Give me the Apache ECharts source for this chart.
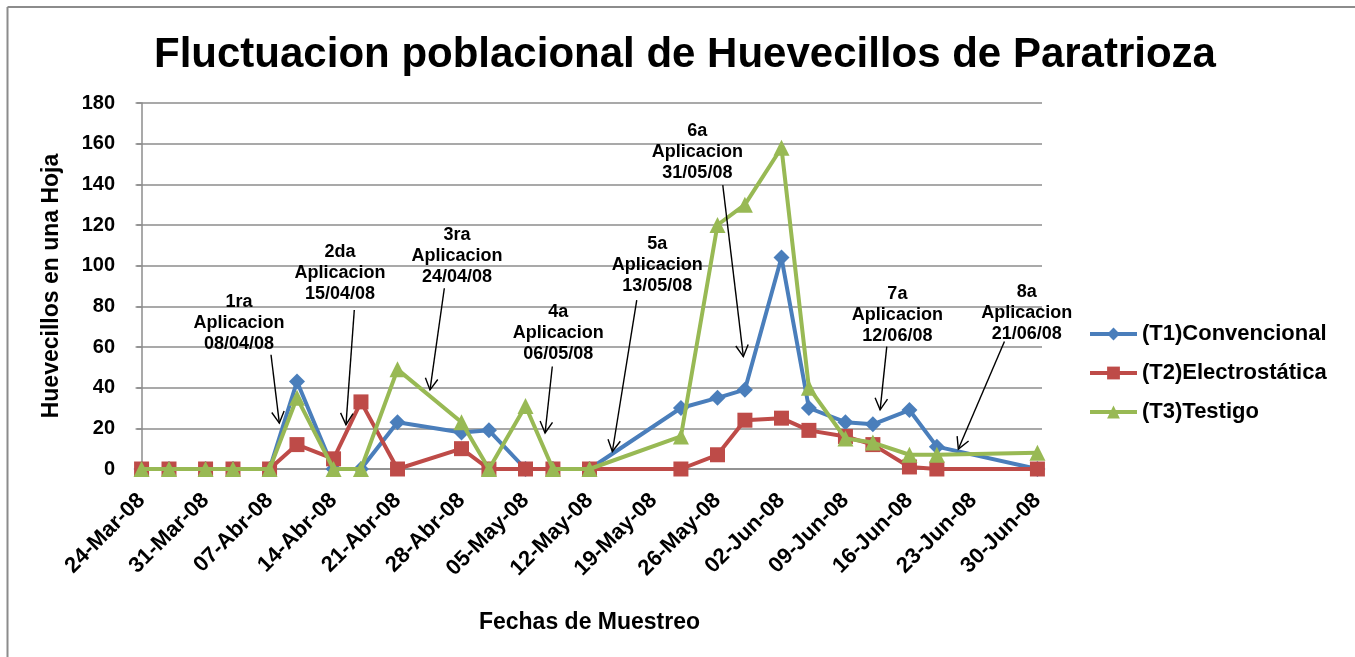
<!DOCTYPE html>
<html>
<head>
<meta charset="utf-8">
<script src="https://cdn.jsdelivr.net/npm/echarts@6/dist/echarts.min.js"></script>
<style>
html,body{margin:0;padding:0;background:#fff;}
#chart{width:1355px;height:657px;}
</style>
</head>
<body>
<div id="chart"></div>
<script>
// ---- data ----
const sampleDates = ['2008-03-24','2008-03-27','2008-03-31','2008-04-03','2008-04-07','2008-04-10','2008-04-14','2008-04-17','2008-04-21','2008-04-28','2008-05-01','2008-05-05','2008-05-08','2008-05-12','2008-05-22','2008-05-26','2008-05-29','2008-06-02','2008-06-05','2008-06-09','2008-06-12','2008-06-16','2008-06-19','2008-06-30'];
const t1Convencional = [0,0,0,0,0,43,0,0,23,18,19,0,0,0,30,35,39,104,30,23,22,29,11,0];
const t2Electrostatica = [0,0,0,0,0,12,5,33,0,10,0,0,0,0,0,7,24,25,19,16,12,1,0,0];
const t3Testigo = [0,0,0,0,0,35,0,0,49,23,0,31,0,0,16,120,130,158,40,15,13,7,7,8];
const tickDates = ['2008-03-24','2008-03-31','2008-04-07','2008-04-14','2008-04-21','2008-04-28','2008-05-05','2008-05-12','2008-05-19','2008-05-26','2008-06-02','2008-06-09','2008-06-16','2008-06-23','2008-06-30'];
const monthNames = ['Ene','Feb','Mar','Abr','May','Jun','Jul','Ago','Sep','Oct','Nov','Dic'];
const seriesNames = ['(T1)Convencional','(T2)Electrostática','(T3)Testigo'];
const yTicks = [0,20,40,60,80,100,120,140,160,180];

// application annotations: text, label anchor, arrow start, arrow tip (in [day, value] chart coords)
const annotations = [
  {text:'1ra\nAplicacion\n08/04/08', at:[10.66,71.9], from:[14.16,56.2], to:[15.07,22.6]},
  {text:'2da\nAplicacion\n15/04/08', at:[21.71,96.5], from:[23.27,78.2], to:[22.36,21.8]},
  {text:'3ra\nAplicacion\n24/04/08', at:[34.51,104.7], from:[33.12,88.9], to:[31.55,38.9]},
  {text:'4a\nAplicacion\n06/05/08', at:[45.59,66.8], from:[44.93,50.4], to:[44.14,17.7]},
  {text:'5a\nAplicacion\n13/05/08', at:[56.42,100.3], from:[54.17,83.1], to:[51.5,8.6]},
  {text:'6a\nAplicacion\n31/05/08', at:[60.8,155.9], from:[63.58,139.6], to:[65.83,55.3]},
  {text:'7a\nAplicacion\n12/06/08', at:[82.68,75.8], from:[81.52,60.2], to:[80.79,29.1]},
  {text:'8a\nAplicacion\n21/06/08', at:[96.84,76.9], from:[94.39,62.7], to:[89.35,9.8]}
];

// ---- helpers ----
const DAY = 86400000;
const origin = Date.UTC(2008, 2, 24);
function dayIndex(s){ const p = s.split('-').map(Number); return Math.round((Date.UTC(p[0], p[1]-1, p[2]) - origin) / DAY); }
function fmtDay(d){ const dt = new Date(origin + d*DAY); const dd = String(dt.getUTCDate()).padStart(2,'0'); return dd + '-' + monthNames[dt.getUTCMonth()] + '-' + String(dt.getUTCFullYear()).slice(2); }
const xs = sampleDates.map(dayIndex);
const tickX = tickDates.map(dayIndex);
function pairs(vals){ return vals.map((v,i)=>[xs[i], v]); }

const FONT = '"Liberation Sans", Arial, Helvetica, sans-serif';
const GRID_C = '#8c8c8c';
const colors = ['#4A7EBB','#BE4B48','#98B954'];

const chart = echarts.init(document.getElementById('chart'), null, {renderer:'canvas'});
const option = {
  animation:false,
  backgroundColor:'#ffffff',
  color: colors,
  title:{
    text:'Fluctuacion poblacional de Huevecillos de Paratrioza',
    left:680, top:29, textAlign:'center',
    textStyle:{fontFamily:FONT, fontWeight:'bold', fontSize:42, color:'#000'}
  },
  legend:{
    orient:'vertical', left:1083, top:318, itemGap:17, itemWidth:47, itemHeight:16,
    lineStyle:{width:4},
    textStyle:{fontFamily:FONT, fontWeight:'bold', fontSize:22, color:'#000'},
    data: seriesNames
  },
  grid:{left:137, right:313, top:103, bottom:188, containLabel:false},
  xAxis:{
    type:'value', min:-0.5, max:98.5,
    name:'Fechas de Muestreo', nameLocation:'middle', nameGap:142,
    nameTextStyle:{fontFamily:FONT, fontWeight:'bold', fontSize:23, color:'#000'},
    axisLine:{show:true, lineStyle:{color:GRID_C, width:1.5}},
    axisTick:{show:false},
    splitLine:{show:false},
    axisLabel:{customValues: tickX, rotate:45, margin:28, fontFamily:FONT, fontWeight:'bold', fontSize:22, color:'#000',
      formatter:(v)=>fmtDay(v)}
  },
  yAxis:{
    type:'value', min:yTicks[0], max:yTicks[yTicks.length-1], interval:yTicks[1]-yTicks[0],
    name:'Huevecillos en una Hoja', nameLocation:'middle', nameGap:74, nameRotate:90,
    nameTextStyle:{fontFamily:FONT, fontWeight:'bold', fontSize:23, color:'#000'},
    axisLine:{show:true, lineStyle:{color:GRID_C, width:1.5}},
    axisTick:{show:true, inside:false, length:6, lineStyle:{color:GRID_C, width:1.5}},
    splitLine:{show:true, lineStyle:{color:GRID_C, width:1.5}},
    axisLabel:{margin:22, fontFamily:FONT, fontWeight:'bold', fontSize:20, color:'#000'}
  },
  series:[
    {name:seriesNames[0], type:'line', data:pairs(t1Convencional), symbol:'diamond', symbolSize:16,
      lineStyle:{width:4, color:colors[0]}, itemStyle:{color:colors[0]}, z:2},
    {name:seriesNames[1], type:'line', data:pairs(t2Electrostatica), symbol:'rect', symbolSize:15,
      lineStyle:{width:4, color:colors[1]}, itemStyle:{color:colors[1]}, z:3},
    {name:seriesNames[2], type:'line', data:pairs(t3Testigo), symbol:'triangle', symbolSize:16,
      lineStyle:{width:4, color:colors[2]}, itemStyle:{color:colors[2]}, z:4}
  ]
};
chart.setOption(option);

// annotations drawn in pixel space converted from chart coords
function px(p){ return chart.convertToPixel({gridIndex:0}, p); }
const graphics = [
  {type:'line', shape:{x1:7.5, y1:7, x2:1355, y2:7}, style:{stroke:'#8c8c8c', lineWidth:2}, z:10},
  {type:'line', shape:{x1:7.5, y1:7, x2:7.5, y2:657}, style:{stroke:'#8c8c8c', lineWidth:2}, z:10}
];
annotations.forEach(a=>{
  const t = px(a.at), f = px(a.from), e = px(a.to);
  graphics.push({type:'text', x:t[0], y:t[1], z:20,
    style:{text:a.text, fill:'#000', font:'bold 18px ' + FONT, align:'center', verticalAlign:'middle', lineHeight:21}});
  graphics.push({type:'line', shape:{x1:f[0], y1:f[1], x2:e[0], y2:e[1]}, style:{stroke:'#000', lineWidth:1.4}, z:20});
  const ang = Math.atan2(f[1]-e[1], f[0]-e[0]);
  const L = 13, spread = 0.5;
  graphics.push({type:'polyline', z:20,
    shape:{points:[[e[0]+L*Math.cos(ang+spread), e[1]+L*Math.sin(ang+spread)], [e[0], e[1]], [e[0]+L*Math.cos(ang-spread), e[1]+L*Math.sin(ang-spread)]]},
    style:{stroke:'#000', lineWidth:1.4, fill:null}});
});
chart.setOption({graphic: graphics});
</script>
</body>
</html>
